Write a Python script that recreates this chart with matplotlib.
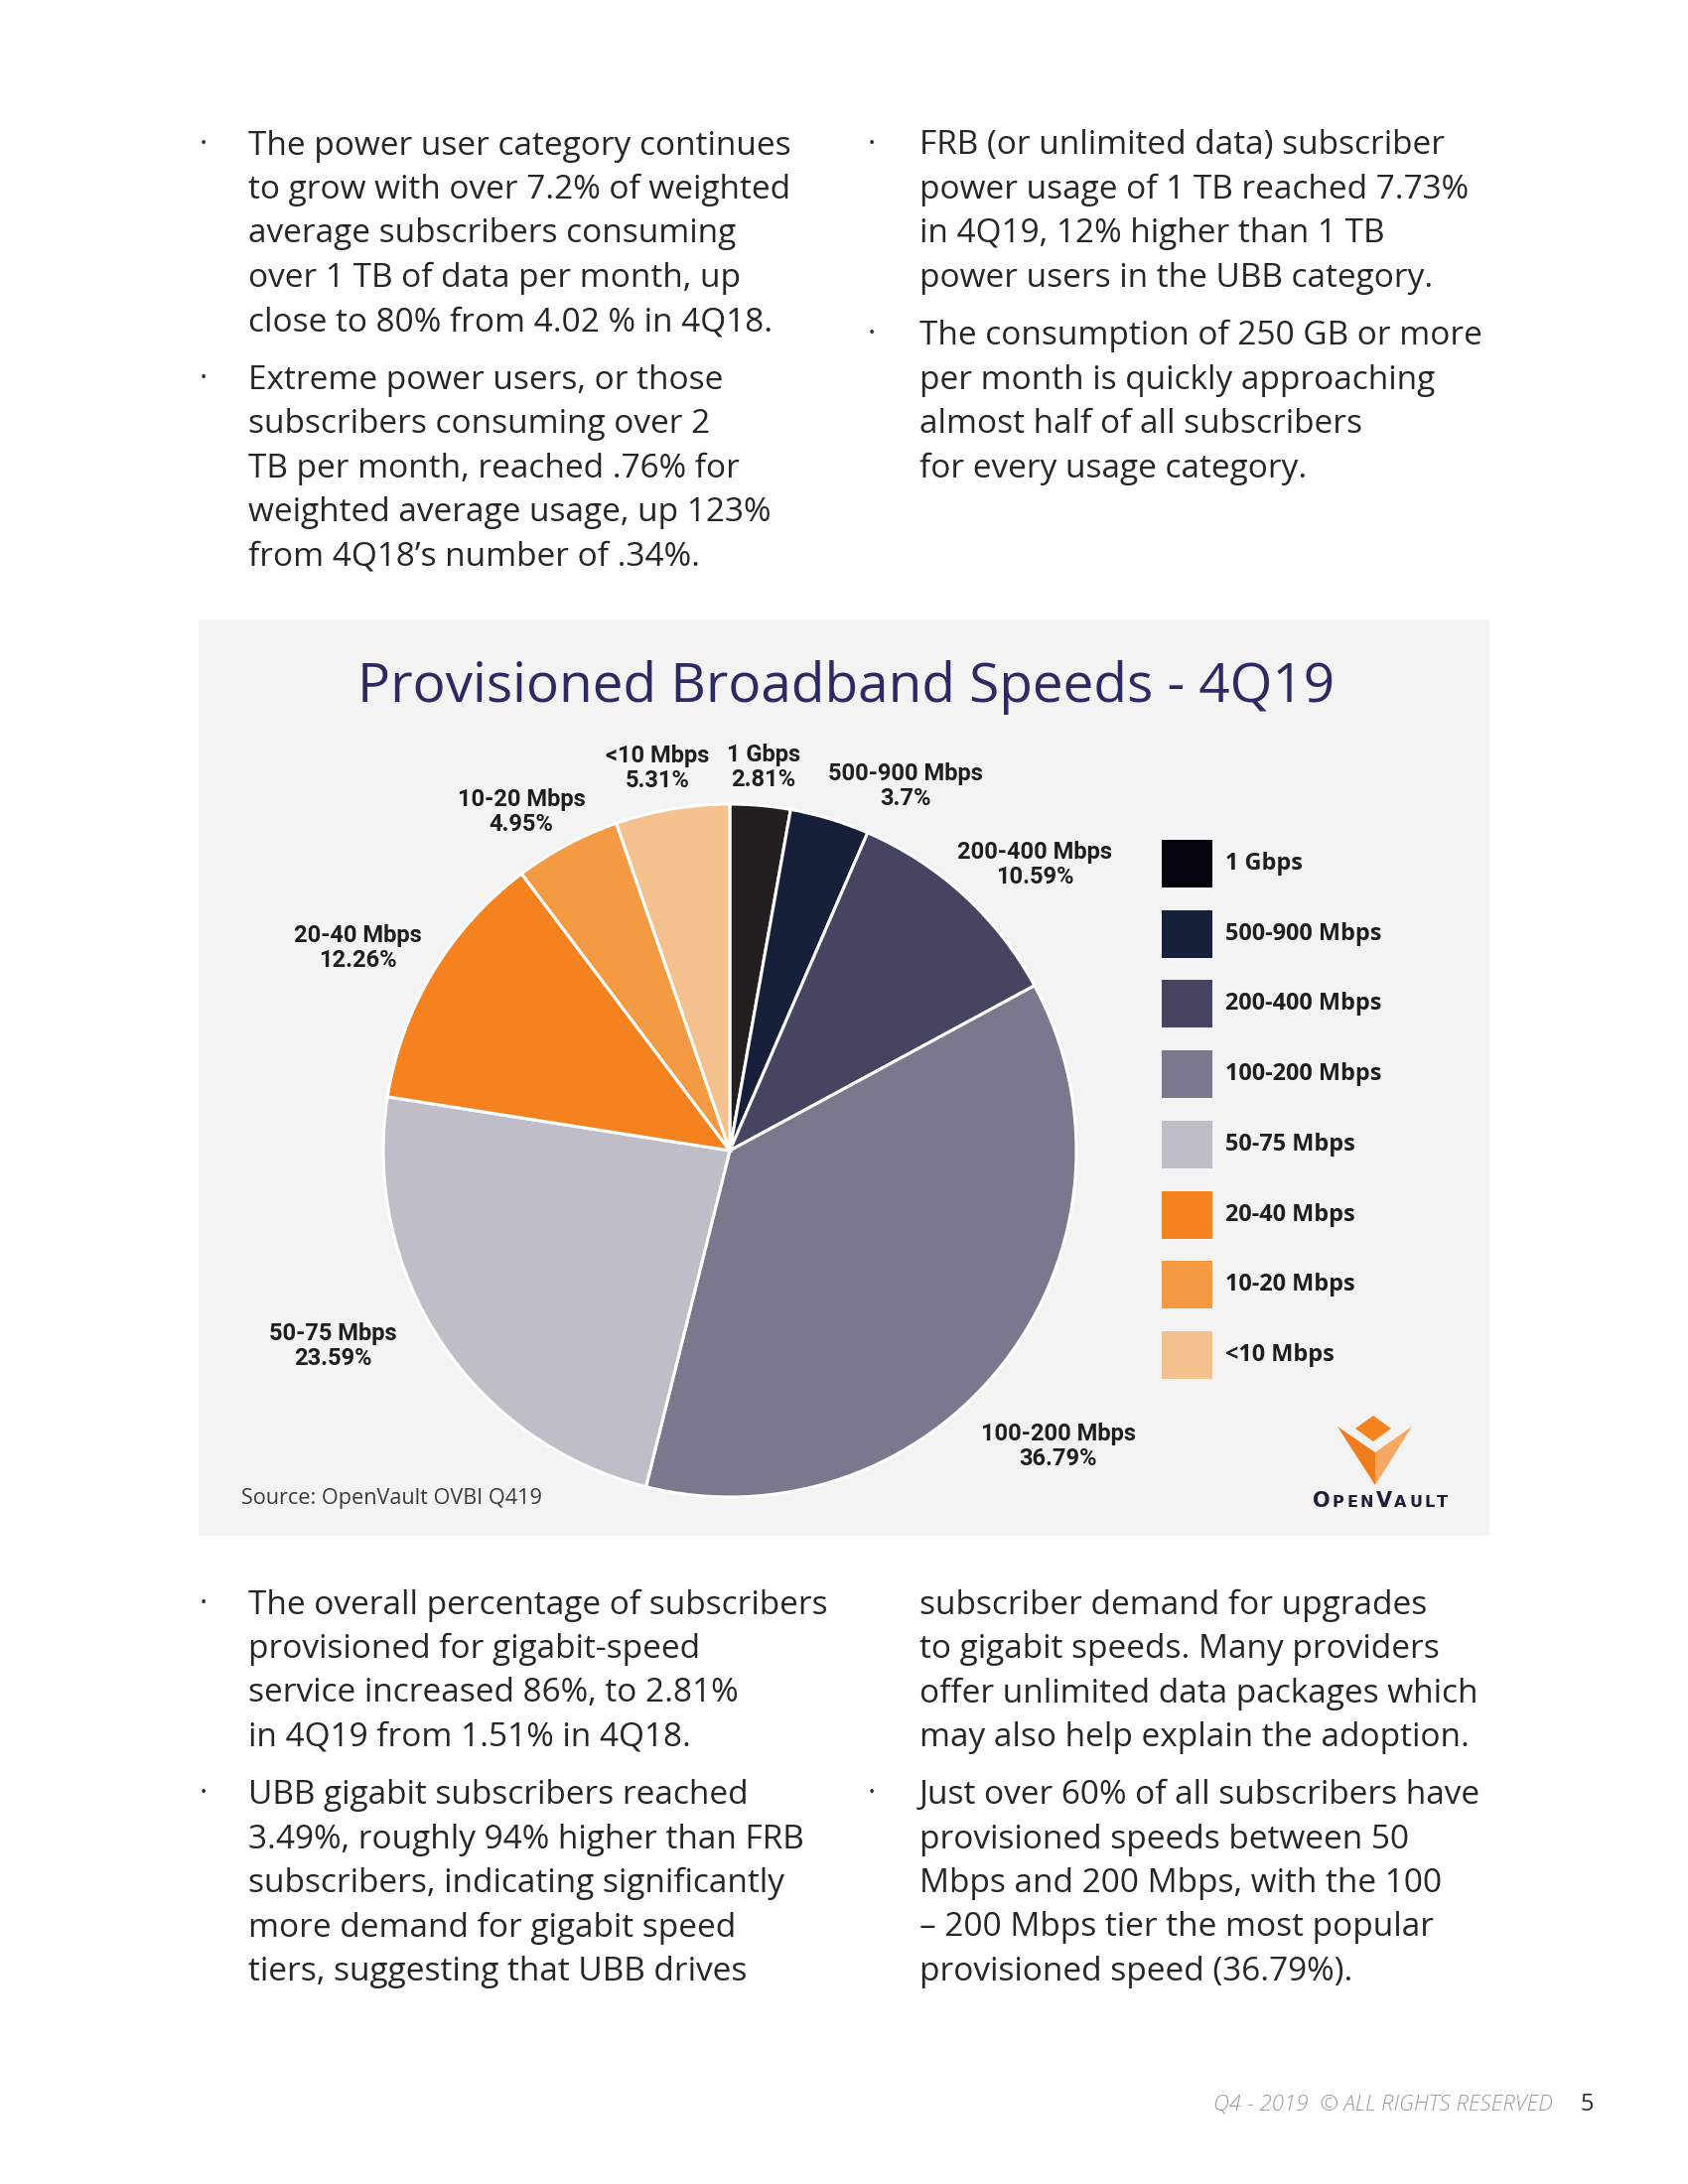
"""Provisioned Broadband Speeds - 4Q19 (report page recreation)."""

import matplotlib

matplotlib.use("Agg")
import matplotlib.pyplot as plt
from matplotlib.patches import Polygon, Rectangle

# data
tiers = ["1 Gbps", "500-900 Mbps", "200-400 Mbps", "100-200 Mbps",
         "50-75 Mbps", "20-40 Mbps", "10-20 Mbps", "<10 Mbps"]
shares = [2.81, 3.7, 10.59, 36.79, 23.59, 12.26, 4.95, 5.31]
pie_colors = ["#231f20", "#16203b", "#454562", "#7b778c",
              "#bfbdc8", "#f5821f", "#f49a43", "#f3c08e"]
legend_colors = ["#05060f", "#16203b", "#454562", "#7b778c",
                 "#bfbdc8", "#f5821f", "#f49a43", "#f3c08e"]

# where each slice label sits on the page (px, y down)
label_pos = [(769, 773), (912, 792), (1042, 871), (1066, 1457),
             (335, 1356), (360, 955), (525, 818), (662, 774)]

top_left = [
    ["The power user category continues",
     "to grow with over 7.2% of weighted",
     "average subscribers consuming",
     "over 1 TB of data per month, up",
     "close to 80% from 4.02 % in 4Q18."],
    ["Extreme power users, or those",
     "subscribers consuming over 2",
     "TB per month, reached .76% for",
     "weighted average usage, up 123%",
     "from 4Q18\u2019s number of .34%."],
]
top_right = [
    ["FRB (or unlimited data) subscriber",
     "power usage of 1 TB reached 7.73%",
     "in 4Q19, 12% higher than 1 TB",
     "power users in the UBB category."],
    ["The consumption of 250 GB or more",
     "per month is quickly approaching",
     "almost half of all subscribers",
     "for every usage category."],
]
bottom_left = [
    ["The overall percentage of subscribers",
     "provisioned for gigabit-speed",
     "service increased 86%, to 2.81%",
     "in 4Q19 from 1.51% in 4Q18."],
    ["UBB gigabit subscribers reached",
     "3.49%, roughly 94% higher than FRB",
     "subscribers, indicating significantly",
     "more demand for gigabit speed",
     "tiers, suggesting that UBB drives"],
]
bottom_right = [
    ["subscriber demand for upgrades",
     "to gigabit speeds. Many providers",
     "offer unlimited data packages which",
     "may also help explain the adoption."],
    ["Just over 60% of all subscribers have",
     "provisioned speeds between 50",
     "Mbps and 200 Mbps, with the 100",
     "\u2013 200 Mbps tier the most popular",
     "provisioned speed (36.79%)."],
]

plt.rcParams["font.family"] = ["Open Sans", "DejaVu Sans"]

W, H = 1700, 2200
fig = plt.figure(figsize=(W / 100, H / 100), dpi=100)
fig.patch.set_facecolor("white")

# page axes in pixel coordinates
page = fig.add_axes([0, 0, 1, 1], zorder=0)
page.set_xlim(0, W)
page.set_ylim(H, 0)
page.axis("off")

TEXT = "#262626"
BODY_FS = 24
LINE = 44.5


def paragraphs(paras, x_text, x_bullet, y0, bullets, gap=13.5):
    y = y0
    for para, bullet in zip(paras, bullets):
        if bullet:
            page.text(x_bullet, y, "\u2022", fontsize=12, color=TEXT,
                      va="center_baseline", ha="center")
        for line in para:
            page.text(x_text, y, line, fontsize=BODY_FS, color=TEXT,
                      va="center_baseline", ha="left")
            y += LINE
        y += gap


paragraphs(top_left, 250, 205, 143, [True, True])
paragraphs(top_right, 926, 878, 143, [True, True])
paragraphs(bottom_left, 250, 205, 1613, [True, True])
paragraphs(bottom_right, 926, 878, 1613, [False, True])

# chart panel
page.add_patch(Rectangle((200, 624), 1300, 923, facecolor="#f3f3f3",
                         edgecolor="none"))
page.text(852, 686, "Provisioned Broadband Speeds - 4Q19", fontsize=39.5,
          color="#2d2a63", ha="center", va="center_baseline")

# pie
cx, cy, r = 735, 1159, 349
ext = 1.02
size = 2 * r * ext
ax = fig.add_axes([(cx - r * ext) / W, 1 - (cy + r * ext) / H, size / W, size / H],
                  zorder=1)
ax.pie(shares, colors=pie_colors, startangle=90, counterclock=False,
       wedgeprops=dict(edgecolor="white", linewidth=2.2))
ax.set_xlim(-ext, ext)
ax.set_ylim(-ext, ext)
ax.set_aspect("equal")
ax.patch.set_alpha(0)

for name, val, (lx, ly) in zip(tiers, shares, label_pos):
    page.text(lx, ly, f"{name}\n{val:g}%", fontsize=17, fontweight="bold",
              color="#1e1e1e", ha="center", va="center", linespacing=1.15,
              family=["Roboto", "DejaVu Sans"])

# legend
for i, (name, col) in enumerate(zip(tiers, legend_colors)):
    y = 870 + i * 70.7
    page.add_patch(Rectangle((1170, y - 24), 51, 48, facecolor=col,
                             edgecolor="none"))
    page.text(1234, y, name, fontsize=16.8, fontweight="bold", color="#1e1e1e",
              ha="left", va="center")

page.text(243, 1510, "Source: OpenVault OVBI Q419", fontsize=15.6,
          color="#3a3a3a", ha="left", va="center")

# OpenVault logo
page.add_patch(Polygon([(1383, 1426), (1401, 1439), (1383, 1452), (1365, 1439)],
                       closed=True, facecolor="#f5821f", edgecolor="none"))
page.add_patch(Polygon([(1347, 1437), (1385, 1463), (1385, 1496)],
                       closed=True, facecolor="#f07c1c", edgecolor="none"))
page.add_patch(Polygon([(1422, 1437), (1385, 1463), (1385, 1496)],
                       closed=True, facecolor="#f6a862", edgecolor="none"))

renderer = fig.canvas.get_renderer()
letters = [("O", 15), ("P", 11.5), ("E", 11.5), ("N", 11.5), ("V", 15),
           ("A", 11.5), ("U", 11.5), ("L", 11.5), ("T", 11.5)]
spacing = 2.5
pieces = []
x = 0.0
for ch, fs in letters:
    t = page.text(x, 1518, ch, fontsize=fs, fontweight="bold", color="#1c1f3a",
                  ha="left", va="baseline", family=["DejaVu Sans"])
    w = t.get_window_extent(renderer).width
    pieces.append(t)
    x += w + spacing
total = x - spacing
x0 = 1390 - total / 2
for t in pieces:
    tx, ty = t.get_position()
    t.set_position((tx + x0, ty))

# footer
page.text(1564, 2117, "Q4 - 2019  \u00a9 ALL RIGHTS RESERVED", fontsize=16,
          style="italic", fontweight="light", color="#9a9a9a", ha="right",
          va="center_baseline")
page.text(1592, 2117, "5", fontsize=17, color="#2b2b2b", ha="left",
          va="center_baseline")

plt.savefig("out.png", dpi=100)
plt.close()
